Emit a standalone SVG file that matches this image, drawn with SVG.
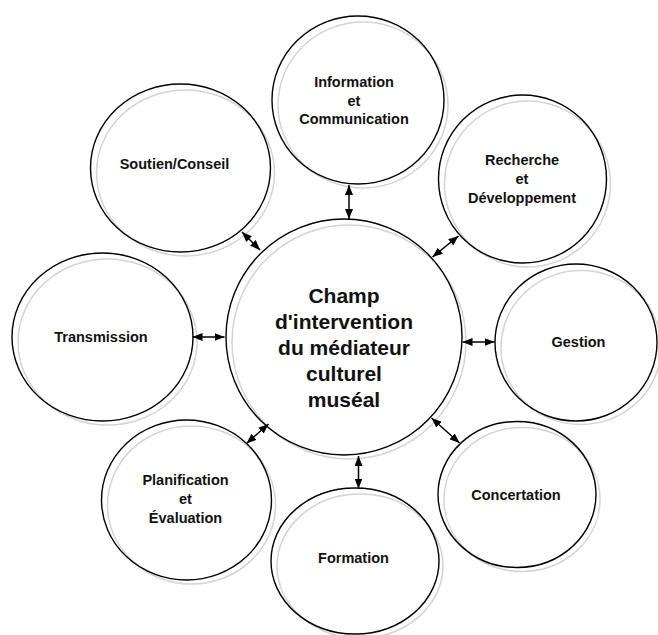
<svg xmlns="http://www.w3.org/2000/svg" width="658" height="635" viewBox="0 0 658 635">
<style>
.sh{fill:none;stroke:#d4d4d4;stroke-width:1.5}
.bd{fill:none;stroke:#000;stroke-width:1.4}
.t{font-family:"Liberation Sans",Arial,sans-serif;font-weight:bold;font-size:14.5px;fill:#111;text-anchor:middle}
.big{font-size:21px}
.cn{stroke:#000;stroke-width:1.5;fill:none;marker-start:url(#ah);marker-end:url(#ah)}
</style>
<defs>
<marker id="ah" viewBox="0 0 10 8" refX="10" refY="4" markerWidth="10" markerHeight="8" markerUnits="userSpaceOnUse" orient="auto-start-reverse">
<path d="M0,0 L10,4 L0,8 Z" fill="#000"/>
</marker>
</defs>
<rect width="658" height="635" fill="#fff"/>
<g id="center">
<ellipse class="sh" cx="349" cy="342" rx="117" ry="117"/>
<ellipse class="bd" cx="344" cy="337" rx="118" ry="118"/>
<text class="t big" x="344" y="303">Champ</text>
<text class="t big" x="344" y="329">d'intervention</text>
<text class="t big" x="344" y="355">du médiateur</text>
<text class="t big" x="344" y="381">culturel</text>
<text class="t big" x="344" y="407">muséal</text>
</g>
<g id="information">
<ellipse class="sh" cx="363" cy="105" rx="85" ry="83"/>
<ellipse class="bd" cx="358" cy="100" rx="86" ry="84"/>
<text class="t" x="354" y="87">Information</text>
<text class="t" x="354" y="106">et</text>
<text class="t" x="354" y="124">Communication</text>
</g>
<g id="soutien">
<ellipse class="sh" cx="185.5" cy="173" rx="89" ry="83"/>
<ellipse class="bd" cx="180.5" cy="168" rx="90" ry="84"/>
<text class="t" x="174.5" y="169">Soutien/Conseil</text>
</g>
<g id="recherche">
<ellipse class="sh" cx="527.5" cy="184" rx="83" ry="83"/>
<ellipse class="bd" cx="522.5" cy="179" rx="84" ry="84"/>
<text class="t" x="522" y="165">Recherche</text>
<text class="t" x="522" y="184">et</text>
<text class="t" x="522" y="203">Développement</text>
</g>
<g id="transmission">
<ellipse class="sh" cx="107.5" cy="342" rx="89.5" ry="83"/>
<ellipse class="bd" cx="102.5" cy="337" rx="90.5" ry="84"/>
<text class="t" x="101" y="342">Transmission</text>
</g>
<g id="gestion">
<ellipse class="sh" cx="581" cy="347.5" rx="80" ry="77"/>
<ellipse class="bd" cx="576" cy="342.5" rx="81" ry="78.5"/>
<text class="t" x="578.5" y="347">Gestion</text>
</g>
<g id="planification">
<ellipse class="sh" cx="191.5" cy="505" rx="84" ry="79"/>
<ellipse class="bd" cx="186.5" cy="500" rx="85" ry="80"/>
<text class="t" x="185.5" y="485">Planification</text>
<text class="t" x="185.5" y="504">et</text>
<text class="t" x="185.5" y="523">Évaluation</text>
</g>
<g id="formation">
<ellipse class="sh" cx="360" cy="566" rx="83" ry="72"/>
<ellipse class="bd" cx="355" cy="561" rx="84" ry="73"/>
<text class="t" x="353.5" y="563">Formation</text>
</g>
<g id="concertation">
<ellipse class="sh" cx="522" cy="499.5" rx="78" ry="72"/>
<ellipse class="bd" cx="517" cy="494.5" rx="79" ry="73"/>
<text class="t" x="516" y="500">Concertation</text>
</g>
<g id="connectors">
<line class="cn" x1="349" y1="185" x2="349" y2="219"/>
<line class="cn" x1="242" y1="232" x2="260" y2="250"/>
<line class="cn" x1="458.5" y1="236" x2="432.5" y2="257"/>
<line class="cn" x1="192.5" y1="337" x2="224.5" y2="337"/>
<line class="cn" x1="462.5" y1="342" x2="494.5" y2="342"/>
<line class="cn" x1="268.5" y1="424" x2="246.5" y2="443.5"/>
<line class="cn" x1="358.5" y1="456" x2="358.5" y2="488.5"/>
<line class="cn" x1="431.5" y1="418" x2="459.5" y2="443"/>
</g>
</svg>
